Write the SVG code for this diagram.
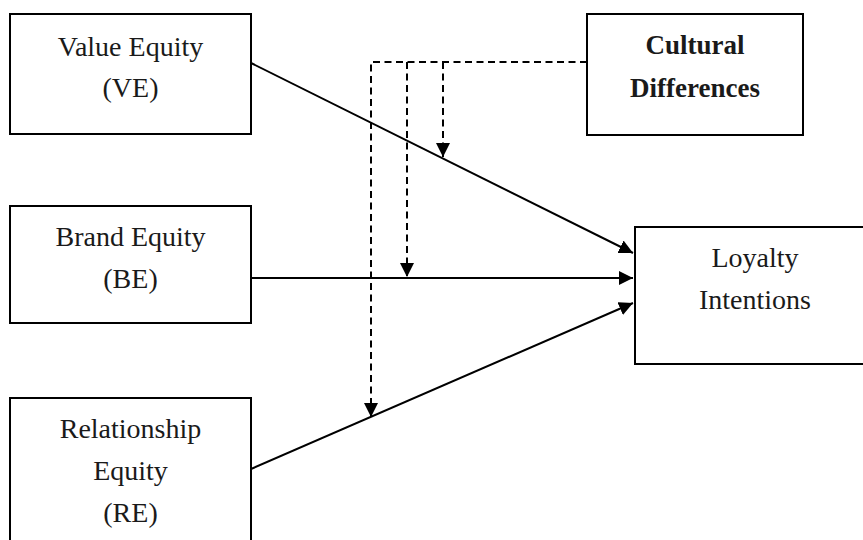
<svg xmlns="http://www.w3.org/2000/svg" width="863" height="540" viewBox="0 0 863 540">
<style>
.box{fill:#fff;stroke:#000;stroke-width:2}
.t{font-family:"Liberation Serif","Times New Roman",serif;font-size:28px;fill:#1a1a1a;text-anchor:middle}
.b{font-weight:bold;font-size:27px}
.solid{fill:none;stroke:#000;stroke-width:2}
.dash{fill:none;stroke:#000;stroke-width:2;stroke-dasharray:7,4.5}
</style>
<defs>
<marker id="ah" viewBox="0 0 14 14" refX="14" refY="7" markerWidth="14" markerHeight="14" markerUnits="userSpaceOnUse" orient="auto">
<path d="M0,0 L14,7 L0,14 Z" fill="#000"/>
</marker>
</defs>
<g id="connectors">
<line class="solid" x1="251" y1="63" x2="633" y2="253" marker-end="url(#ah)"/>
<line class="solid" x1="251" y1="278" x2="633" y2="278" marker-end="url(#ah)"/>
<line class="solid" x1="251" y1="469" x2="633" y2="303" marker-end="url(#ah)"/>
<polyline class="dash" points="587,62 371,62 371,417" marker-end="url(#ah)"/>
<line class="dash" x1="407" y1="62" x2="407" y2="277" marker-end="url(#ah)"/>
<line class="dash" x1="443" y1="62" x2="443" y2="157" marker-end="url(#ah)"/>
</g>
<g id="ve">
<rect class="box" x="10" y="14" width="241" height="120"/>
<text class="t" x="130.5" y="56">Value Equity</text>
<text class="t" x="130.5" y="97">(VE)</text>
</g>
<g id="be">
<rect class="box" x="10" y="206" width="241" height="117"/>
<text class="t" x="130.5" y="246">Brand Equity</text>
<text class="t" x="130.5" y="288">(BE)</text>
</g>
<g id="re">
<rect class="box" x="10" y="398" width="241" height="150"/>
<text class="t" x="130.5" y="438">Relationship</text>
<text class="t" x="130.5" y="480">Equity</text>
<text class="t" x="130.5" y="522">(RE)</text>
</g>
<g id="cd">
<rect class="box" x="587" y="14" width="216" height="121"/>
<text class="t b" x="695" y="54">Cultural</text>
<text class="t b" x="695" y="97">Differences</text>
</g>
<g id="li">
<rect class="box" x="635" y="227" width="240" height="137"/>
<text class="t" x="755" y="267">Loyalty</text>
<text class="t" x="755" y="309">Intentions</text>
</g>
</svg>
